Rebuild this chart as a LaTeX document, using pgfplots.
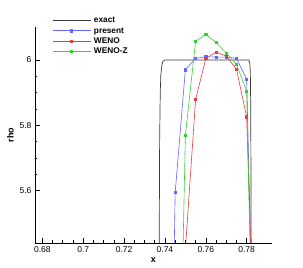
\documentclass[border=0pt]{standalone}
\usepackage{pgfplots}
\pgfplotsset{compat=1.18}
\usepackage{fontspec}
\setmainfont{Liberation Sans}
\definecolor{cblue}{RGB}{100,100,255}
\definecolor{cred}{RGB}{228,60,60}
\definecolor{cgreen}{RGB}{50,210,50}
\definecolor{cexact}{RGB}{60,60,60}
\begin{document}
\begin{tikzpicture}[x=1pt,y=1pt]
\path[use as bounding box] (0,0) rectangle (303,268);
\begin{axis}[
  at={(35pt,25pt)}, anchor=south west,
  scale only axis, width=237pt, height=216pt,
  xmin=0.6764, xmax=0.7924, ymin=5.44, ymax=6.101,
  axis x line*=bottom, axis y line*=left,
  axis line style={line width=0.8pt},
  tick align=inside,
  xtick={0.68,0.7,0.72,0.74,0.76,0.78},
  xticklabels={0.68,0.7,0.72,0.74,0.76,0.78},
  ytick={5.6,5.8,6},
  yticklabels={5.6,5.8,6},
  minor x tick num=3, minor y tick num=3,
  major tick length=4.5pt, minor tick length=2.5pt,
  tick style={line width=0.6pt, black},
  ticklabel style={font=\fontsize{8.5}{9}\selectfont},
  xticklabel style={yshift=-0.5pt},
  xlabel={\bfseries x}, ylabel={\bfseries rho},
  label style={font=\fontsize{9}{10}\selectfont},
  xlabel style={yshift=2pt},
  ylabel style={yshift=-1pt},
  clip=true,
  legend cell align=left,
  legend style={draw=none, fill=none, at={(0.072,1.048)}, anchor=north west,
    font=\bfseries\fontsize{8.3}{10}\selectfont, row sep=2.7pt, inner sep=0pt,
    nodes={text height=6pt, text depth=1.5pt, inner xsep=3pt, inner ysep=0pt}},
  legend image code/.code={\draw[mark repeat=2,mark phase=2,#1] plot coordinates {(0pt,0pt) (19pt,0pt) (38pt,0pt)};},
]
\addplot[cexact, line width=0.7pt] coordinates {
(0.7370,5.0) (0.7372,5.44) (0.7374,5.75) (0.7377,5.90) (0.7380,5.955) (0.7385,5.985) (0.7390,5.996) (0.7400,6.0)
(0.7810,6.0) (0.7815,5.993) (0.7818,5.96) (0.7820,5.85) (0.7822,5.44) (0.7823,5.0)};
\addlegendentry{exact}
\addplot[cblue, line width=0.6pt, mark=square*, mark size=1.1pt] coordinates {
(0.740,3.70) (0.745,5.594) (0.750,5.970) (0.755,6.005) (0.760,6.010) (0.765,6.009) (0.770,6.009) (0.775,6.005) (0.780,5.941) (0.785,4.64)};
\addlegendentry{present}
\addplot[cred, line width=0.6pt, mark=square*, mark size=1.1pt] coordinates {
(0.745,3.8) (0.750,5.42) (0.755,5.879) (0.760,6.004) (0.765,6.024) (0.770,6.012) (0.775,5.972) (0.780,5.826) (0.785,4.84)};
\addlegendentry{WENO}
\addplot[cgreen, line width=0.6pt, mark=square*, mark size=1.1pt] coordinates {
(0.745,4.26) (0.750,5.769) (0.755,6.057) (0.760,6.078) (0.765,6.054) (0.770,6.021) (0.775,5.987) (0.780,5.905) (0.785,4.46)};
\addlegendentry{WENO-Z}
\end{axis}
\end{tikzpicture}
\end{document}
